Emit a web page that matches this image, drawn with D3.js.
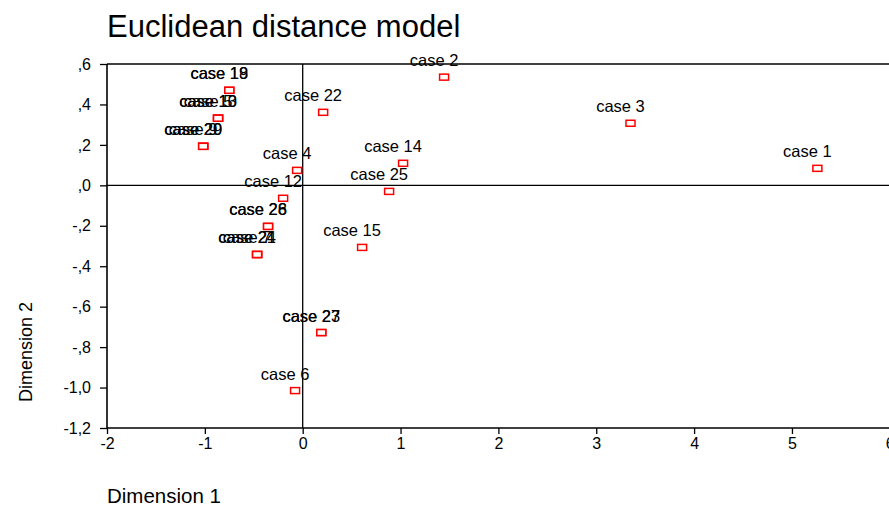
<!DOCTYPE html>
<html>
<head>
<meta charset="utf-8">
<script src="https://cdn.jsdelivr.net/npm/d3@7"></script>
<style>
  body { margin: 0; background: #fff; }
  text { font-family: Arial, "Liberation Sans", sans-serif; fill: #000; }
</style>
</head>
<body>
<div class="chart"></div>
<script>
// MDS stimulus configuration

const width = 889
const height = 506

const cases = ['case 1','case 2','case 3','case 4','case 5','case 6','case 7','case 9','case 10',
  'case 12','case 13','case 14','case 15','case 18','case 19','case 20','case 21','case 22',
  'case 23','case 24','case 25','case 26','case 27','case 28','case 29']
const dim1 = [5.26, 1.445, 3.35, -0.057, -0.865, -0.078, -0.466, -1.017, -0.865,
  -0.20, -0.865, 1.026, 0.607, -0.75, -0.75, -1.017, -0.466, 0.209,
  0.19, -0.466, 0.883, -0.354, 0.19, -0.354, -1.017]
const dim2 = [0.084, 0.535, 0.307, 0.074, 0.332, -1.015, -0.342, 0.193, 0.332,
  -0.064, 0.332, 0.109, -0.307, 0.47, 0.47, 0.193, -0.342, 0.361,
  -0.728, -0.342, -0.030, -0.203, -0.728, -0.203, 0.193]

const xTicks = [-2, -1, 0, 1, 2, 3, 4, 5, 6]
const yTicks = [0.6, 0.4, 0.2, 0, -0.2, -0.4, -0.6, -0.8, -1.0, -1.2]

const points = cases.map((c, i) => ({name: c, x: dim1[i], y: dim2[i]}))

const svg = d3.select('.chart')
  .append('svg')
  .attr('width', width)
  .attr('height', height)

const x = d3.scaleLinear().domain([-2, 6]).range([107, 889.8])
const y = d3.scaleLinear().domain([-1.2, 0.6]).range([428, 64])

// spss style tick labels: ,6  -,2  -1,0  (plain hyphen for minus)
const yFmt = d => d3.format('.1f')(d).replace('\u2212', '-').replace(/^(-?)0\./, '$1,').replace('.', ',')
const xFmt = d => String(d)

svg.append('text')
  .attr('x', 107)
  .attr('y', 37)
  .attr('font-size', 31)
  .text('Euclidean distance model')

// frame top
svg.append('line')
  .attr('x1', x(-2)).attr('x2', width)
  .attr('y1', y(0.6)).attr('y2', y(0.6))
  .attr('stroke', '#000').attr('stroke-width', 1.3)

// reference lines at 0
svg.append('line')
  .attr('x1', x(-2)).attr('x2', width)
  .attr('y1', y(0)).attr('y2', y(0))
  .attr('stroke', '#000').attr('stroke-width', 1.3)
svg.append('line')
  .attr('x1', x(0)).attr('x2', x(0))
  .attr('y1', y(0.6)).attr('y2', y(-1.2))
  .attr('stroke', '#000').attr('stroke-width', 1.3)

const xAxis = svg.append('g')
  .attr('transform', `translate(0, ${y(-1.2)})`)
  .call(d3.axisBottom(x).tickValues(xTicks).tickSize(6).tickPadding(4).tickFormat(xFmt))
xAxis.select('.domain').attr('d', `M${x(-2)},0H${width}`).attr('stroke-width', 1.6)

const yAxis = svg.append('g')
  .attr('transform', `translate(${x(-2)}, 0)`)
  .call(d3.axisLeft(y).tickValues(yTicks).tickSize(7).tickPadding(9).tickFormat(yFmt))
yAxis.select('.domain').attr('d', `M0,${y(0.6)}V${y(-1.2)}`).attr('stroke-width', 1.6)

svg.selectAll('.tick line').attr('stroke-width', 1.3)
svg.selectAll('.tick text')
  .attr('font-size', 16)
  .attr('font-family', 'Arial, "Liberation Sans", sans-serif')

svg.append('text')
  .attr('transform', `translate(32, 352) rotate(-90)`)
  .attr('text-anchor', 'middle')
  .attr('font-size', 18)
  .text('Dimension 2')

svg.append('text')
  .attr('x', 107)
  .attr('y', 503)
  .attr('font-size', 20.5)
  .text('Dimension 1')

const g = svg.append('g')

g.selectAll('rect')
  .data(points)
  .enter().append('rect')
    .attr('x', d => x(d.x) - 4.5)
    .attr('y', d => y(d.y) - 3)
    .attr('width', 9)
    .attr('height', 6)
    .attr('fill', '#fff')
    .attr('stroke', '#f00')
    .attr('stroke-width', 1.5)

// labels sit above and a bit to the left of each marker
g.selectAll('text')
  .data(points)
  .enter().append('text')
    .attr('x', d => x(d.x) - 10)
    .attr('y', d => y(d.y) - 11)
    .attr('text-anchor', 'middle')
    .attr('font-size', 16.5)
    .text(d => d.name)
</script>
</body>
</html>
